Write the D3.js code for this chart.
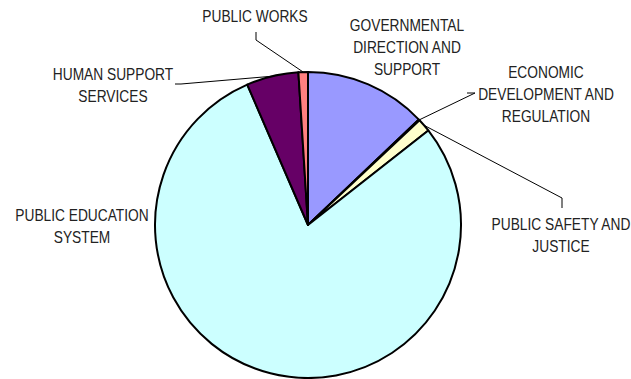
<!DOCTYPE html>
<html>
<head>
<meta charset="utf-8">
<script src="https://cdn.jsdelivr.net/npm/d3@7"></script>
<style>
  html, body { margin: 0; padding: 0; background: #fff; }
  svg { display: block; }
  text { font-family: "Liberation Sans", Arial, sans-serif; font-size: 16px; fill: #222; }
</style>
</head>
<body>
<svg id="chart" width="631" height="379"></svg>
<script>
// Share of spending by appropriation title (percent of total)
const categories = [
  "GOVERNMENTAL DIRECTION AND SUPPORT",
  "ECONOMIC DEVELOPMENT AND REGULATION",
  "PUBLIC SAFETY AND JUSTICE",
  "PUBLIC EDUCATION SYSTEM",
  "HUMAN SUPPORT SERVICES",
  "PUBLIC WORKS"
];
const shares = [12.9, 0.1, 1.4, 79.1, 5.5, 1.0];
const colors = ["#9999FF", "#993366", "#FFFFCC", "#CCFFFF", "#660066", "#FF8080"];

// Label blocks: wrapped lines, centre point, and optional leader elbow
const labelLines = [
  ["GOVERNMENTAL", "DIRECTION AND", "SUPPORT"],
  ["ECONOMIC", "DEVELOPMENT AND", "REGULATION"],
  ["PUBLIC SAFETY AND", "JUSTICE"],
  ["PUBLIC EDUCATION", "SYSTEM"],
  ["HUMAN SUPPORT", "SERVICES"],
  ["PUBLIC WORKS"]
];
const labelCenters = [[407, 47], [546, 94], [561, 235], [82, 226], [113, 85], [255, 16]];
// leader polyline start points (null = no leader)
const leaderStarts = [
  null,
  [[467, 93], [475, 93]],
  [[562, 208], [562, 198]],
  null,
  [[175, 84], [181, 84]],
  [[256, 32], [256, 40]]
];

const svg = d3.select("#chart");
const cx = 308, cy = 225, r = 153;
const g = svg.append("g").attr("transform", `translate(${cx},${cy})`);

const pie = d3.pie().sort(null).value(d => d).startAngle(0).endAngle(2 * Math.PI);
const arcs = pie(shares);
const arc = d3.arc().innerRadius(0).outerRadius(r);

g.selectAll("path.slice")
  .data(arcs)
  .join("path")
  .attr("class", "slice")
  .attr("d", arc)
  .attr("fill", (d, i) => colors[i])
  .attr("stroke", "#000")
  .attr("stroke-width", 2)
  .attr("stroke-linejoin", "round");

// leader lines from label to the slice's outer edge
const line = d3.line();
arcs.forEach((a, i) => {
  const s = leaderStarts[i];
  if (!s) return;
  const mid = (a.startAngle + a.endAngle) / 2;
  const end = [cx + r * Math.sin(mid), cy - r * Math.cos(mid)];
  svg.append("path")
    .attr("d", line([...s, end]))
    .attr("fill", "none")
    .attr("stroke", "#000")
    .attr("stroke-width", 1);
});

// labels, set in a condensed face
const lh = 22;
const squeeze = 0.86;
labelLines.forEach((lines, i) => {
  const [x, y] = labelCenters[i];
  const y0 = y - (lines.length - 1) * lh / 2;
  const t = svg.append("text")
    .attr("text-anchor", "middle")
    .attr("transform", `translate(${x},0) scale(${squeeze},1) translate(${-x},0)`);
  lines.forEach((ln, j) => {
    t.append("tspan")
      .attr("x", x)
      .attr("y", y0 + j * lh)
      .attr("dy", "0.36em")
      .text(ln);
  });
});
</script>
</body>
</html>
